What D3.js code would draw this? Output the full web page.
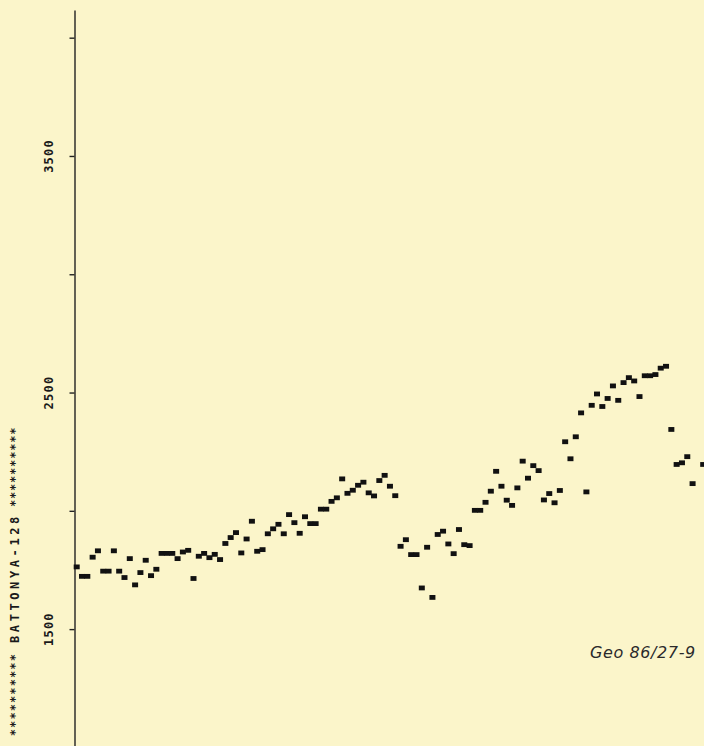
<!DOCTYPE html>
<html>
<head>
<meta charset="utf-8">
<script src="https://cdn.jsdelivr.net/npm/d3@7"></script>
<style>
  html, body { margin: 0; padding: 0; background: #fbf5ca; }
  svg { display: block; }
</style>
</head>
<body>
<div id="chart"></div>
<script>
// station series, one value per sampling step (null = no reading)
var values = [
  1763, 1723, 1723, 1804, 1831, 1745, 1745, 1831, 1745, 1718,
  1798, 1687, 1739, 1791, 1726, 1753, 1820, 1820, 1820, 1798,
  1826, 1833, 1714, 1808, 1820, 1802, 1816, 1794, 1862, 1887,
  1908, 1822, 1881, 1956, 1829, 1836, 1903, 1924, 1943, 1903,
  1984, 1950, 1905, 1975, 1946, 1946, 2007, 2007, 2040, 2055,
  2135, 2074, 2087, 2108, 2121, 2076, 2063, 2128, 2150, 2104,
  2064, 1850, 1878, 1815, 1815, 1674, 1846, 1634, 1900, 1914,
  1860, 1819, 1921, 1857, 1853, 2002, 2002, 2036, 2083, 2167,
  2104, 2045, 2023, 2097, 2210, 2138, 2191, 2170, 2046, 2073,
  2034, 2086, 2292, 2220, 2313, 2414, 2080, 2446, 2494, 2441,
  2475, 2528, 2467, 2542, 2563, 2549, 2483, 2571, 2571, 2576,
  2603, 2611, 2344, 2196, 2203, 2229, 2115, null, 2196
];
var tickValues = [1000, 1500, 2000, 2500, 3000, 3500, 4000];
var labelValues = [1500, 2500, 3500];
var title = 'BATTONYA-128';
var stars = '**********';
var note = 'Geo 86/27-9';

var width = 704, height = 746;

var svg = d3.select('#chart').append('svg')
  .attr('width', width)
  .attr('height', height);

svg.append('rect')
  .attr('width', width)
  .attr('height', height)
  .attr('fill', '#fbf5ca');

var x = d3.scaleLinear().domain([0, 118]).range([76.7, 703.2]),
  y = d3.scaleLinear().domain([1000, 4117]).range([747.4, 10]);

var axis = svg.append('g')
  .attr('transform', 'translate(74.5,0)')
  .call(d3.axisLeft(y)
    .tickValues(tickValues)
    .tickSize(5)
    .tickSizeOuter(0)
    .tickFormat(''));

axis.selectAll('path, line')
  .attr('stroke', '#222')
  .attr('stroke-width', 1.4);

// rotated tick labels
svg.selectAll('.ylabel')
  .data(labelValues)
  .enter().append('text')
  .attr('class', 'ylabel')
  .attr('transform', function(d) { return 'translate(52.5,' + y(d) + ') rotate(-90)'; })
  .attr('text-anchor', 'middle')
  .style('font', 'bold 12px "DejaVu Sans Mono", monospace')
  .style('letter-spacing', '1.2px')
  .attr('fill', '#1a1a1a')
  .text(function(d) { return d; });

// station title down the left edge
var tg = svg.append('g').attr('transform', 'translate(18.5,0) rotate(-90)')
  .style('font', 'bold 12px "DejaVu Sans Mono", monospace')
  .attr('fill', '#1a1a1a');

tg.append('text')
  .attr('x', -653)
  .attr('text-anchor', 'end')
  .style('letter-spacing', '1.1px')
  .text(stars);

tg.append('text')
  .attr('x', -643)
  .style('letter-spacing', '3.6px')
  .text(title);

tg.append('text')
  .attr('x', -507)
  .style('letter-spacing', '0.8px')
  .text(stars);

// data points
svg.selectAll('.pt')
  .data(values.map(function(v, i) { return {i: i, v: v}; })
    .filter(function(d) { return d.v !== null; }))
  .enter().append('rect')
  .attr('class', 'pt')
  .attr('x', function(d) { return x(d.i) - 3; })
  .attr('y', function(d) { return y(d.v) - 2.4; })
  .attr('width', 6)
  .attr('height', 4.8)
  .attr('fill', '#111');

svg.append('text')
  .attr('x', 590)
  .attr('y', 658)
  .style('font', 'italic 16px "DejaVu Sans", sans-serif')
  .style('letter-spacing', '0.6px')
  .attr('fill', '#2a2a2a')
  .text(note);
</script>
</body>
</html>
